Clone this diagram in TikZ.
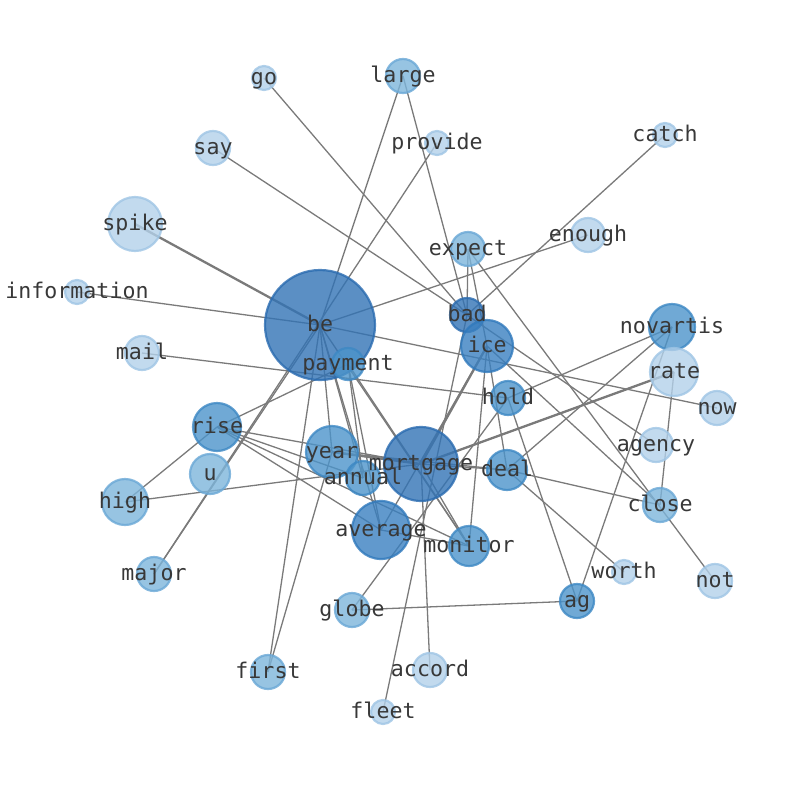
\documentclass[tikz,border=0pt]{standalone}
\usepackage{fontspec}
\newfontfamily\lblfont{DejaVu Sans Mono}
\pgfdeclarelayer{bg}
\pgfsetlayers{bg,main}
\definecolor{fA}{HTML}{B3D1EA}\definecolor{dA}{HTML}{9FC5E5}
\definecolor{fB}{HTML}{7DB5DB}\definecolor{dB}{HTML}{6AA8D6}
\definecolor{fC}{HTML}{4C94CA}\definecolor{dC}{HTML}{3D88C4}
\definecolor{fD}{HTML}{3A80C0}\definecolor{dD}{HTML}{3079BC}
\definecolor{fE}{HTML}{3273B5}\definecolor{dE}{HTML}{2A6BB0}
\definecolor{edgegray}{HTML}{7A7A7A}
\definecolor{txt}{HTML}{383838}
\tikzset{
  nd/.style={circle,inner sep=0pt,minimum size=#1,line width=2.2pt,fill opacity=0.8,draw opacity=0.8},
  cA/.style={fill=fA,draw=dA},
  cB/.style={fill=fB,draw=dB},
  cC/.style={fill=fC,draw=dC},
  cD/.style={fill=fD,draw=dD},
  cE/.style={fill=fE,draw=dE},
  lb/.style={text=txt,font=\lblfont\fontsize{21.6}{24}\selectfont,inner sep=0pt,
    text height=17pt,text depth=5pt},
  ed/.style={draw=edgegray,line width=1.3pt},
  edt/.style={draw=edgegray,line width=2.3pt}
}
\newcommand{\gnode}[5]{\node[nd=#4,#5] (#1) at (#2,#3) {};}
\begin{document}
\begin{tikzpicture}[x=1pt,y=-1pt]
\useasboundingbox (0,0) rectangle (794,790);
\gnode{go}{264}{78}{24pt}{cA}
\gnode{large}{403}{76}{34pt}{cB}
\gnode{provide}{437}{143}{24pt}{cA}
\gnode{catch}{665}{135}{24pt}{cA}
\gnode{say}{213}{148}{34pt}{cA}
\gnode{spike}{135}{224}{54pt}{cA}
\gnode{expect}{468}{249}{34pt}{cB}
\gnode{enough}{588}{235}{34pt}{cA}
\gnode{information}{77}{292}{24pt}{cA}
\gnode{be}{320}{325}{110pt}{cE}
\gnode{bad}{467}{315}{34pt}{cE}
\gnode{ice}{487}{346}{52pt}{cD}
\gnode{novartis}{672}{327}{46pt}{cC}
\gnode{mail}{142}{353}{34pt}{cA}
\gnode{payment}{348}{364}{32pt}{cC}
\gnode{rate}{674}{372}{48pt}{cA}
\gnode{hold}{508}{398}{34pt}{cC}
\gnode{now}{717}{408}{34pt}{cA}
\gnode{rise}{217}{427}{48pt}{cC}
\gnode{agency}{656}{445}{34pt}{cA}
\gnode{year}{332}{452}{52pt}{cC}
\gnode{mortgage}{421}{464}{74pt}{cE}
\gnode{annual}{363}{478}{34pt}{cC}
\gnode{deal}{507}{470}{40pt}{cC}
\gnode{u}{210}{474}{40pt}{cB}
\gnode{high}{125}{502}{46pt}{cB}
\gnode{close}{660}{505}{34pt}{cB}
\gnode{average}{381}{530}{58pt}{cD}
\gnode{monitor}{469}{546}{40pt}{cC}
\gnode{major}{154}{574}{34pt}{cB}
\gnode{worth}{624}{572}{24pt}{cA}
\gnode{not}{715}{581}{34pt}{cA}
\gnode{globe}{352}{610}{34pt}{cB}
\gnode{ag}{577}{601}{34pt}{cC}
\gnode{first}{268}{672}{34pt}{cB}
\gnode{accord}{430}{670}{34pt}{cA}
\gnode{fleet}{383}{712}{24pt}{cA}
\begin{pgfonlayer}{bg}
\foreach \a/\b in {go/bad,large/be,large/bad,provide/major,catch/bad,say/bad,
  expect/bad,expect/ice,expect/not,enough/be,information/be,be/now,be/first,be/major,
  be/year,be/annual,be/average,be/monitor,mail/hold,payment/annual,payment/average,payment/monitor,
  rise/payment,rise/high,rise/mortgage,rise/annual,rise/average,rise/monitor,high/mortgage,
  year/first,year/deal,mortgage/deal,mortgage/monitor,mortgage/accord,
  average/ice,average/monitor,fleet/bad,globe/ag,globe/hold,ag/hold,ag/novartis,
  novartis/hold,novartis/deal,rate/close,deal/close,deal/worth,ice/close,bad/agency,
  ice/deal,ice/monitor}
  \draw[ed] (\a.center) -- (\b.center);
\foreach \a/\b in {spike/be,year/mortgage,mortgage/rate,mortgage/ice}
  \draw[edt] (\a.center) -- (\b.center);
\end{pgfonlayer}
\foreach \n in {go,large,provide,catch,say,spike,expect,enough,information,be,bad,ice,
  novartis,mail,payment,rate,hold,now,rise,agency,year,mortgage,annual,deal,u,high,close,
  average,monitor,major,worth,not,globe,ag,first,accord,fleet}
  \node[lb] (\n-l) at (\n.center) {\n};
\end{tikzpicture}
\end{document}
